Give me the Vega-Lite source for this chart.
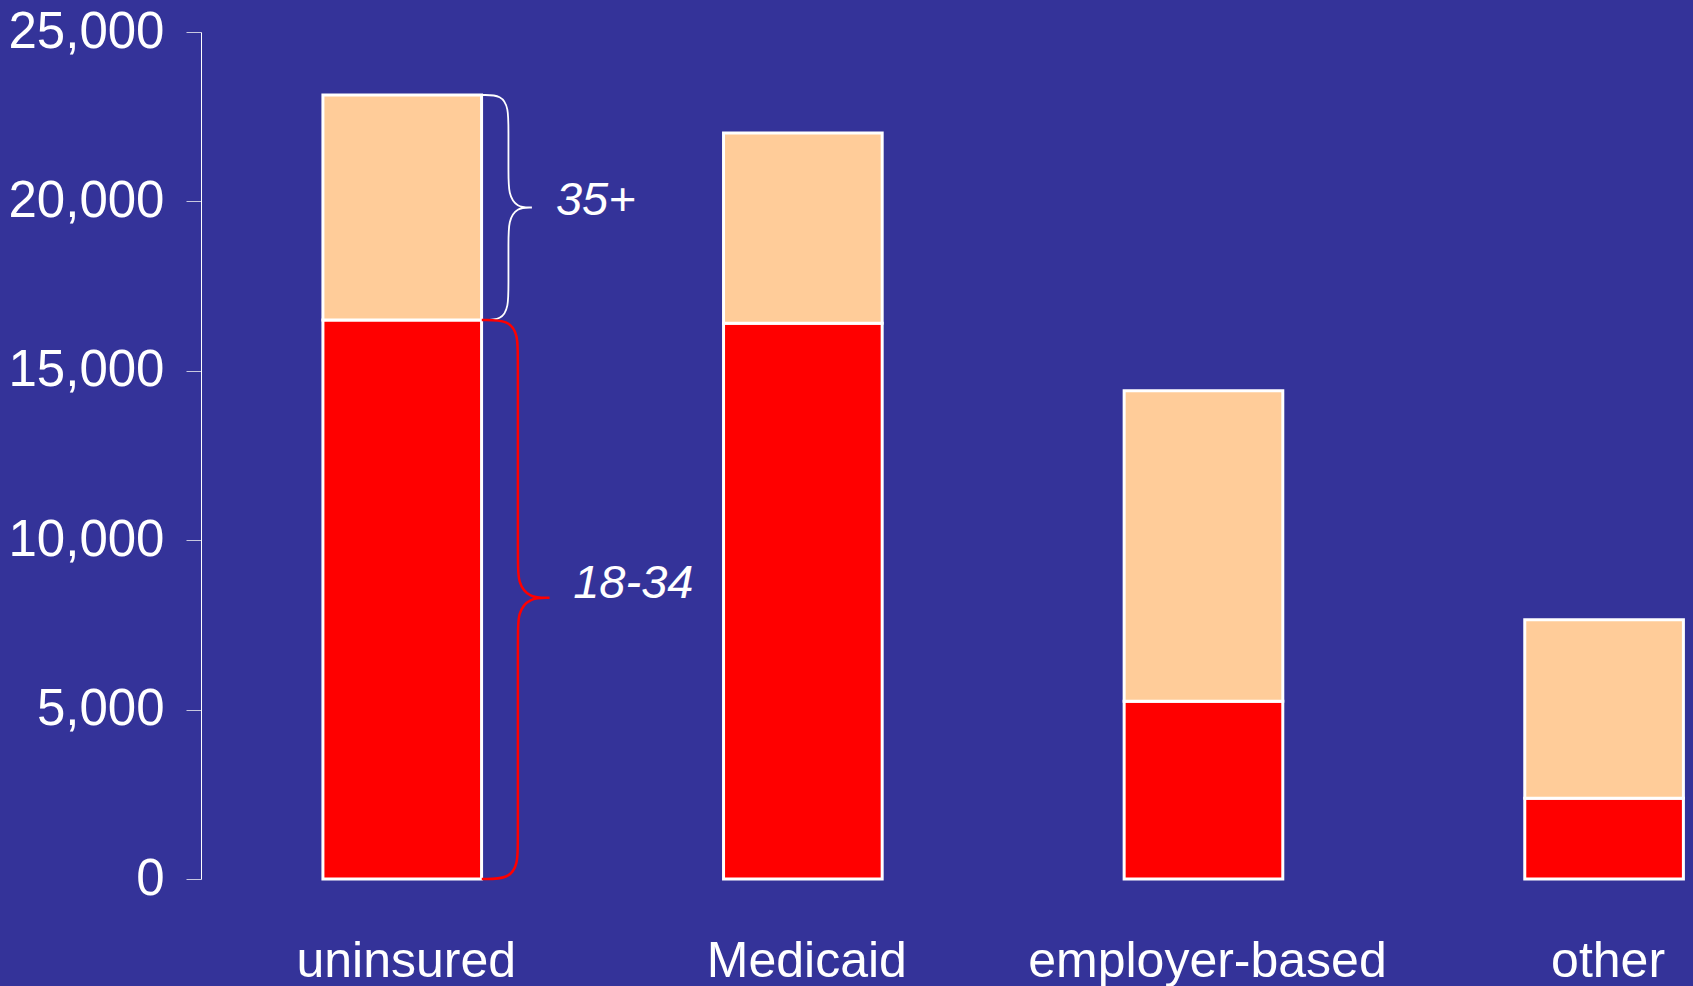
{
  "$schema": "https://vega.github.io/schema/vega-lite/v6.json",
  "autosize": "none",
  "width": 1489,
  "height": 847,
  "padding": {"left": 201, "top": 32, "right": 3, "bottom": 107},
  "background": "#343399",
  "config": {"view": {"stroke": null}, "font": "Liberation Sans"},
  "datasets": {
    "bars": [
      {"coverage": "uninsured", "age": "18-34", "count": 16500},
      {"coverage": "uninsured", "age": "35+", "count": 6640},
      {"coverage": "Medicaid", "age": "18-34", "count": 16400},
      {"coverage": "Medicaid", "age": "35+", "count": 5620},
      {"coverage": "employer-based", "age": "18-34", "count": 5250},
      {"coverage": "employer-based", "age": "35+", "count": 9160},
      {"coverage": "other", "age": "18-34", "count": 2380},
      {"coverage": "other", "age": "35+", "count": 5270}
    ],
    "braces": [
      {"age": "35+", "ord": 1, "xi": 0.2, "v": 23140},
      {"age": "35+", "ord": 2, "xi": 0.25, "v": 23140},
      {"age": "35+", "ord": 3, "xi": 0.2665, "v": 22740},
      {"age": "35+", "ord": 4, "xi": 0.2665, "v": 22140},
      {"age": "35+", "ord": 5, "xi": 0.2665, "v": 20820},
      {"age": "35+", "ord": 6, "xi": 0.2665, "v": 20220},
      {"age": "35+", "ord": 7, "xi": 0.287, "v": 19820},
      {"age": "35+", "ord": 8, "xi": 0.325, "v": 19820},
      {"age": "35+", "ord": 9, "xi": 0.325, "v": 19820},
      {"age": "35+", "ord": 10, "xi": 0.325, "v": 19820},
      {"age": "35+", "ord": 11, "xi": 0.287, "v": 19820},
      {"age": "35+", "ord": 12, "xi": 0.2665, "v": 19420},
      {"age": "35+", "ord": 13, "xi": 0.2665, "v": 18820},
      {"age": "35+", "ord": 14, "xi": 0.2665, "v": 17500},
      {"age": "35+", "ord": 15, "xi": 0.2665, "v": 16900},
      {"age": "35+", "ord": 16, "xi": 0.25, "v": 16500},
      {"age": "35+", "ord": 17, "xi": 0.2, "v": 16500},
      {"age": "18-34", "ord": 1, "xi": 0.2, "v": 16500},
      {"age": "18-34", "ord": 2, "xi": 0.2675, "v": 16500},
      {"age": "18-34", "ord": 3, "xi": 0.29, "v": 16060},
      {"age": "18-34", "ord": 4, "xi": 0.29, "v": 15400},
      {"age": "18-34", "ord": 5, "xi": 0.29, "v": 9400},
      {"age": "18-34", "ord": 6, "xi": 0.29, "v": 8740},
      {"age": "18-34", "ord": 7, "xi": 0.3177, "v": 8300},
      {"age": "18-34", "ord": 8, "xi": 0.369, "v": 8300},
      {"age": "18-34", "ord": 9, "xi": 0.369, "v": 8300},
      {"age": "18-34", "ord": 10, "xi": 0.369, "v": 8300},
      {"age": "18-34", "ord": 11, "xi": 0.3177, "v": 8300},
      {"age": "18-34", "ord": 12, "xi": 0.29, "v": 7860},
      {"age": "18-34", "ord": 13, "xi": 0.29, "v": 7200},
      {"age": "18-34", "ord": 14, "xi": 0.29, "v": 1100},
      {"age": "18-34", "ord": 15, "xi": 0.29, "v": 440},
      {"age": "18-34", "ord": 16, "xi": 0.2675, "v": 0},
      {"age": "18-34", "ord": 17, "xi": 0.2, "v": 0}
    ],
    "labels": [
      {"age": "35+", "xi": 0.385, "v": 20000},
      {"age": "18-34", "xi": 0.428, "v": 8700}
    ]
  },
  "layer": [
    {
      "data": {"name": "bars"},
      "mark": {"type": "bar", "stroke": "white", "strokeWidth": 3},
      "encoding": {
        "x": {
          "field": "coverage",
          "type": "nominal",
          "sort": ["uninsured", "Medicaid", "employer-based", "other"],
          "scale": {"paddingInner": 0.604, "paddingOuter": 0.1604, "align": 0.9487},
          "axis": {
            "title": null,
            "labelAngle": 0,
            "labelFontSize": 50,
            "labelColor": "white",
            "labelBaseline": "alphabetic",
            "labelPadding": 97,
            "labelOffset": 4,
            "labelLimit": 0,
            "labelOverlap": false,
            "ticks": false,
            "tickSize": 0,
            "domain": false,
            "labelFont": "Liberation Sans"
          }
        },
        "y": {
          "field": "count",
          "type": "quantitative",
          "stack": "zero",
          "scale": {"domain": [0, 25000], "nice": false},
          "axis": {
            "title": null,
            "values": [0, 5000, 10000, 15000, 20000, 25000],
            "format": ",d",
            "labelFontSize": 51,
            "labelColor": "white",
            "labelPadding": 22,
            "tickSize": 15,
            "tickColor": "#c8c8e0",
            "domainColor": "white",
            "grid": false,
            "labelFont": "Liberation Sans"
          }
        },
        "color": {
          "field": "age",
          "type": "nominal",
          "scale": {"domain": ["18-34", "35+"], "range": ["#FF0000", "#FFCC99"]},
          "legend": null
        },
        "order": {"field": "age", "sort": "ascending"}
      }
    },
    {
      "data": {"name": "braces"},
      "transform": [{"filter": "datum.age == '35+'"}],
      "mark": {"type": "line", "interpolate": "basis", "stroke": "white", "strokeWidth": 1.8},
      "encoding": {
        "x": {"field": "xi", "type": "quantitative", "scale": {"domain": [-0.5, 3.2122], "nice": false, "zero": false}, "axis": null},
        "y": {"field": "v", "type": "quantitative", "scale": {"domain": [0, 25000], "nice": false}},
        "order": {"field": "ord"}
      }
    },
    {
      "data": {"name": "braces"},
      "transform": [{"filter": "datum.age == '18-34'"}],
      "mark": {"type": "line", "interpolate": "basis", "stroke": "#FF0000", "strokeWidth": 2.5},
      "encoding": {
        "x": {"field": "xi", "type": "quantitative", "scale": {"domain": [-0.5, 3.2122], "nice": false, "zero": false}, "axis": null},
        "y": {"field": "v", "type": "quantitative", "scale": {"domain": [0, 25000], "nice": false}},
        "order": {"field": "ord"}
      }
    },
    {
      "data": {"name": "labels"},
      "mark": {"type": "text", "align": "left", "baseline": "middle", "fontStyle": "italic", "fontSize": 47, "color": "white", "font": "Liberation Sans"},
      "encoding": {
        "x": {"field": "xi", "type": "quantitative", "scale": {"domain": [-0.5, 3.2122], "nice": false, "zero": false}, "axis": null},
        "y": {"field": "v", "type": "quantitative", "scale": {"domain": [0, 25000], "nice": false}},
        "text": {"field": "age"}
      }
    }
  ],
  "resolve": {"scale": {"x": "independent"}}
}
